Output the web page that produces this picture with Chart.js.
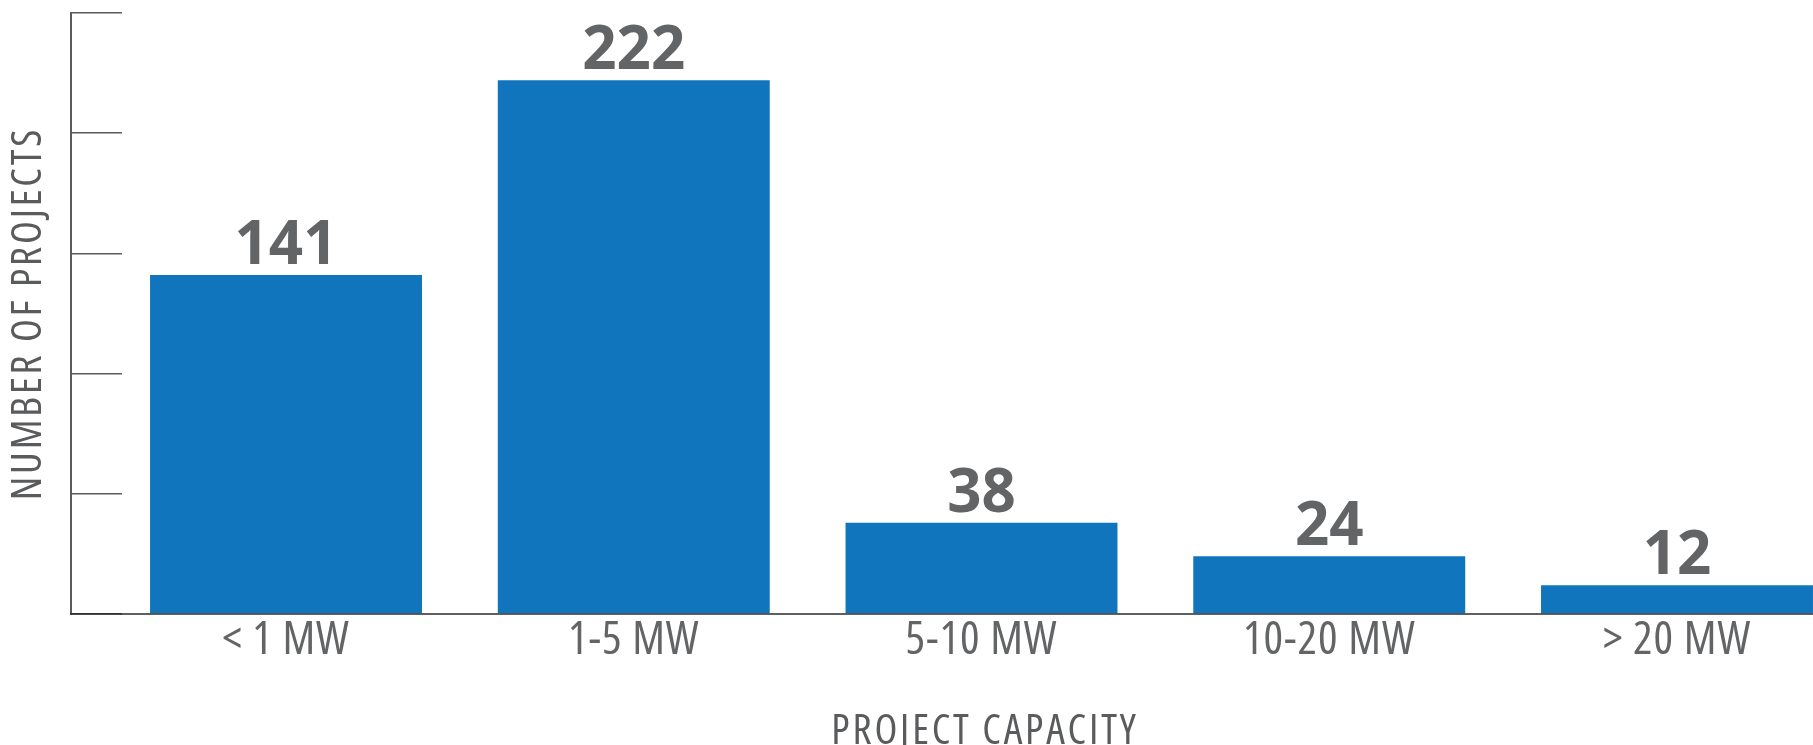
<!DOCTYPE html>
<html lang="en">
    <head>
        <meta charset="UTF-8" />
        <title>Number of projects by project capacity</title>
        <style>
            html,
            body {
                margin: 0;
                padding: 0;
                background: #fff;
                overflow: hidden;
            }
            #chart-container {
                width: 1899px;
                height: 760px;
            }
        </style>
    </head>
    <body>
        <div id="chart-container">
            <canvas id="capacityChart" width="1899" height="760"></canvas>
        </div>

        <script src="https://cdn.jsdelivr.net/npm/chart.js"></script>
        <script>
            // data
            const categories = ["< 1 MW", "1-5 MW", "5-10 MW", "10-20 MW", "> 20 MW"];
            const projectCounts = [141, 222, 38, 24, 12];
            const yMax = 250;
            const yStep = 50;

            // x range (in category units) so that the axis sits left of the first bar
            // and the last bar runs off the right edge, as in the original
            const xMin = -0.6183;
            const xMax = 4.6384;

            const greyText = "#636466";
            const axisGrey = "#5a5b5d";
            const sans = "'Open Sans', 'Noto Sans', sans-serif";

            // axis titles are widely letter-spaced, the category labels only a little
            const spacing = {
                id: "spacing",
                beforeDraw(chart) {
                    chart.ctx.letterSpacing = "2.8px";
                },
                afterDatasetsDraw(chart) {
                    chart.ctx.letterSpacing = "1px";
                },
            };

            // value labels above the bars
            const valueLabels = {
                id: "valueLabels",
                afterDatasetsDraw(chart) {
                    const ctx = chart.ctx;
                    const meta = chart.getDatasetMeta(0);
                    ctx.save();
                    ctx.letterSpacing = "0px";
                    ctx.fillStyle = greyText;
                    ctx.font = "bold 60px " + sans;
                    ctx.textAlign = "center";
                    ctx.textBaseline = "alphabetic";
                    meta.data.forEach((bar, i) => {
                        ctx.fillText(String(projectCounts[i]), bar.x, bar.y - 11);
                    });
                    ctx.restore();
                },
            };

            const ctx = document.getElementById("capacityChart").getContext("2d");
            const capacityChart = new Chart(ctx, {
                type: "bar",
                data: {
                    datasets: [
                        {
                            label: "Number of projects",
                            data: projectCounts.map((v, i) => ({ x: i, y: v })),
                            backgroundColor: "#1175bd",
                            borderWidth: 0,
                            barPercentage: 0.782,
                            categoryPercentage: 1,
                        },
                    ],
                },
                options: {
                    responsive: false,
                    animation: false,
                    devicePixelRatio: 1,
                    layout: {
                        padding: { top: 13, left: 0, right: 0, bottom: 0 },
                    },
                    plugins: {
                        legend: { display: false },
                        tooltip: { enabled: false },
                    },
                    scales: {
                        x: {
                            type: "linear",
                            position: "bottom",
                            offset: false,
                            min: xMin,
                            max: xMax,
                            afterBuildTicks: (scale) => {
                                scale.ticks = categories.map((_, i) => ({ value: i }));
                            },
                            afterFit: (scale) => {
                                scale.height = 760 - 614;
                            },
                            ticks: {
                                z: 1,
                                autoSkip: false,
                                maxRotation: 0,
                                padding: 4,
                                color: greyText,
                                font: { family: sans, weight: "400 condensed", size: 46, lineHeight: 1 },
                                callback: (value) => categories[value],
                            },
                            grid: {
                                display: true,
                                offset: false,
                                drawOnChartArea: false,
                                drawTicks: false,
                            },
                            border: {
                                display: true,
                                z: 1,
                                color: "rgba(35, 35, 35, 0.72)",
                                width: 2,
                            },
                            title: {
                                display: true,
                                text: "PROJECT CAPACITY",
                                color: axisGrey,
                                font: { family: sans, weight: "400 condensed", size: 42, lineHeight: 1 },
                                padding: { top: 0, bottom: 7 },
                            },
                        },
                        y: {
                            min: 0,
                            max: yMax,
                            afterFit: (scale) => {
                                scale.width = 71;
                            },
                            ticks: {
                                stepSize: yStep,
                                display: false,
                            },
                            grid: {
                                display: true,
                                drawOnChartArea: false,
                                drawTicks: true,
                                tickLength: -51,
                                color: axisGrey,
                                lineWidth: 1.5,
                            },
                            border: {
                                display: true,
                                color: axisGrey,
                                width: 2,
                            },
                            title: {
                                display: true,
                                text: "NUMBER OF PROJECTS",
                                color: axisGrey,
                                font: { family: sans, weight: "400 condensed", size: 42, lineHeight: 1 },
                                padding: { top: 8, bottom: 0 },
                            },
                        },
                    },
                },
                plugins: [spacing, valueLabels],
            });
        </script>
    </body>
</html>
